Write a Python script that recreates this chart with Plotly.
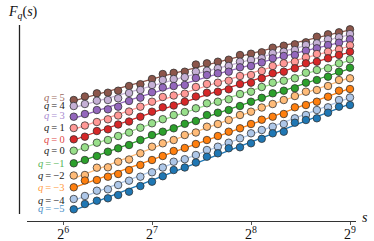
import numpy as np
import plotly.graph_objects as go

# scales s (log-spaced window sizes)
s_vals = [74, 80, 87, 94, 101, 109, 118, 128, 138, 149, 161, 174, 188, 203,
          219, 237, 256, 276, 298, 322, 348, 376, 406, 439, 474, 512]

# log10 F_q(s) (arbitrary offset)
logF_q5 = [1.500, 1.535, 1.567, 1.573, 1.593, 1.640, 1.658, 1.710, 1.760, 1.772, 1.783, 1.855, 1.867,
           1.883, 1.903, 1.950, 1.963, 1.977, 2.023, 2.043, 2.057, 2.077, 2.133, 2.157, 2.177, 2.207]
logF_q4 = [1.440, 1.460, 1.493, 1.500, 1.517, 1.570, 1.600, 1.650, 1.700, 1.710, 1.728, 1.783, 1.793,
           1.817, 1.840, 1.883, 1.900, 1.917, 1.967, 1.983, 2.000, 2.050, 2.067, 2.107, 2.127, 2.160]
logF_q3 = [1.333, 1.360, 1.400, 1.407, 1.433, 1.490, 1.523, 1.577, 1.625, 1.640, 1.650, 1.720, 1.750,
           1.767, 1.783, 1.827, 1.840, 1.875, 1.917, 1.940, 1.950, 1.993, 2.017, 2.050, 2.073, 2.107]
logF_q1 = [1.220, 1.245, 1.280, 1.307, 1.345, 1.385, 1.433, 1.483, 1.530, 1.545, 1.563, 1.630, 1.660,
           1.673, 1.693, 1.740, 1.750, 1.790, 1.840, 1.867, 1.883, 1.927, 1.960, 1.983, 2.007, 2.047]
logF_q0a = [1.107, 1.133, 1.190, 1.207, 1.255, 1.285, 1.333, 1.383, 1.427, 1.445, 1.483, 1.535, 1.573,
            1.583, 1.607, 1.660, 1.673, 1.717, 1.767, 1.783, 1.817, 1.867, 1.883, 1.917, 1.950, 1.983]
logF_q0b = [0.993, 1.027, 1.073, 1.100, 1.140, 1.175, 1.223, 1.267, 1.308, 1.350, 1.380, 1.417, 1.467,
            1.483, 1.507, 1.560, 1.583, 1.630, 1.673, 1.693, 1.717, 1.773, 1.800, 1.817, 1.867, 1.907]
logF_qm1 = [0.867, 0.900, 0.940, 0.983, 1.017, 1.050, 1.100, 1.150, 1.183, 1.217, 1.262, 1.290, 1.350,
            1.373, 1.400, 1.440, 1.483, 1.522, 1.567, 1.593, 1.617, 1.673, 1.700, 1.733, 1.783, 1.823]
logF_qm2 = [0.745, 0.750, 0.823, 0.827, 0.883, 0.905, 0.967, 1.033, 1.067, 1.100, 1.150, 1.175, 1.233,
            1.260, 1.300, 1.350, 1.383, 1.425, 1.460, 1.500, 1.540, 1.583, 1.600, 1.640, 1.700, 1.717]
logF_qm3 = [0.627, 0.695, 0.700, 0.733, 0.760, 0.800, 0.850, 0.900, 0.940, 0.990, 1.020, 1.060, 1.100,
            1.140, 1.183, 1.217, 1.260, 1.303, 1.333, 1.360, 1.427, 1.450, 1.483, 1.533, 1.593, 1.610]
logF_qm4 = [0.510, 0.540, 0.593, 0.607, 0.650, 0.693, 0.733, 0.777, 0.825, 0.883, 0.908, 0.950, 1.000,
            1.033, 1.073, 1.117, 1.167, 1.200, 1.233, 1.260, 1.317, 1.350, 1.400, 1.427, 1.500, 1.525]
logF_qm5 = [0.407, 0.460, 0.493, 0.517, 0.550, 0.583, 0.640, 0.683, 0.738, 0.800, 0.825, 0.875, 0.933,
            0.967, 1.017, 1.027, 1.067, 1.112, 1.167, 1.183, 1.273, 1.300, 1.317, 1.373, 1.433, 1.450]

series = [logF_q5, logF_q4, logF_q3, logF_q1, logF_q0a, logF_q0b,
          logF_qm1, logF_qm2, logF_qm3, logF_qm4, logF_qm5]
labels = ["q=5", "q=4", "q=3", "q=1", "q=0", "q=0", "q=−1", "q=−2", "q=−3", "q=−4", "q=−5"]

tick_vals = [68.7, 128, 256, 512]
tick_text = ["2<sup>6</sup>", "2<sup>7</sup>", "2<sup>8</sup>", "2<sup>9</sup>"]

SERIF = "Liberation Serif, DejaVu Serif, serif"
colors = ["#8c564b", "#c5b0d5", "#9467bd", "#ff9896", "#d62728", "#98df8a",
          "#2ca02c", "#ffbb78", "#ff7f0e", "#aec7e8", "#1f77b4"]
label_colors = ["#9a6a5e", "#222222", "#a98bd0", "#222222", "#e04848", "#222222",
                "#55b455", "#222222", "#ff9a40", "#222222", "#4a90c8"]
label_yshift = [3, 1, 1, 1, 0, 0, 0, 0, 0, -1, 1]

fig = go.Figure()
ls = np.log10(np.array(s_vals, dtype=float))
for vals, col in zip(series, colors):
    coef = np.polyfit(ls, np.array(vals), 2)
    fig.add_trace(go.Scatter(x=s_vals, y=np.polyval(coef, ls), mode="lines",
                             line=dict(color=col, width=1.3), showlegend=False,
                             hoverinfo="skip"))
for vals, col in zip(series, colors):
    fig.add_trace(go.Scatter(x=s_vals, y=vals, mode="markers",
                             marker=dict(size=7.5, color=col,
                                         line=dict(color="rgba(45,45,45,0.75)", width=1)),
                             showlegend=False))

annotations = []
for vals, lab, lc, ys in zip(series, labels, label_colors, label_yshift):
    q, num = lab.split("=")
    annotations.append(dict(x=float(np.log10(s_vals[0])), y=vals[0], xref="x", yref="y",
                            text="<i>q</i>\u2009=\u2009" + num, showarrow=False,
                            xanchor="right", yanchor="middle", xshift=-7, yshift=ys,
                            font=dict(family=SERIF, size=10.5, color=lc)))
annotations.append(dict(x=-0.064, y=1.066, xref="paper", yref="paper",
                        text="<i>F</i><sub><i>q</i></sub>(<i>s</i>)", showarrow=False,
                        xanchor="left", yanchor="middle",
                        font=dict(family=SERIF, size=14, color="#111")))
annotations.append(dict(x=1.027, y=0.02, xref="paper", yref="paper",
                        text="<i>s</i>", showarrow=False, xanchor="center", yanchor="middle",
                        font=dict(family=SERIF, size=14, color="#111")))

fig.update_layout(
    width=374, height=241,
    margin=dict(l=27, r=18, t=25, b=20, autoexpand=False),
    plot_bgcolor="white", paper_bgcolor="white",
    annotations=annotations,
    shapes=[dict(type="line", xref="paper", yref="paper", x0=-0.0228, x1=-0.0228,
                 y0=0.0357, y1=1.0, line=dict(color="#222", width=1.3))],
    xaxis=dict(type="log", range=[1.7271, 2.7275], showgrid=False, zeroline=False,
               automargin=False,
               showline=True, linecolor="#333", linewidth=1.3,
               ticks="outside", ticklen=3, tickcolor="#555", tickwidth=1,
               ticklabelstandoff=-3,
               tickvals=tick_vals, ticktext=tick_text,
               tickfont=dict(family=SERIF, size=14, color="#111")),
    yaxis=dict(range=[0.29, 2.25], showgrid=False, zeroline=False, showline=False,
               showticklabels=False, ticks="", automargin=False),
)
fig.write_html("out.html", config={"displayModeBar": False},
               post_script="document.body.style.margin='0';document.body.style.overflow='hidden';")
